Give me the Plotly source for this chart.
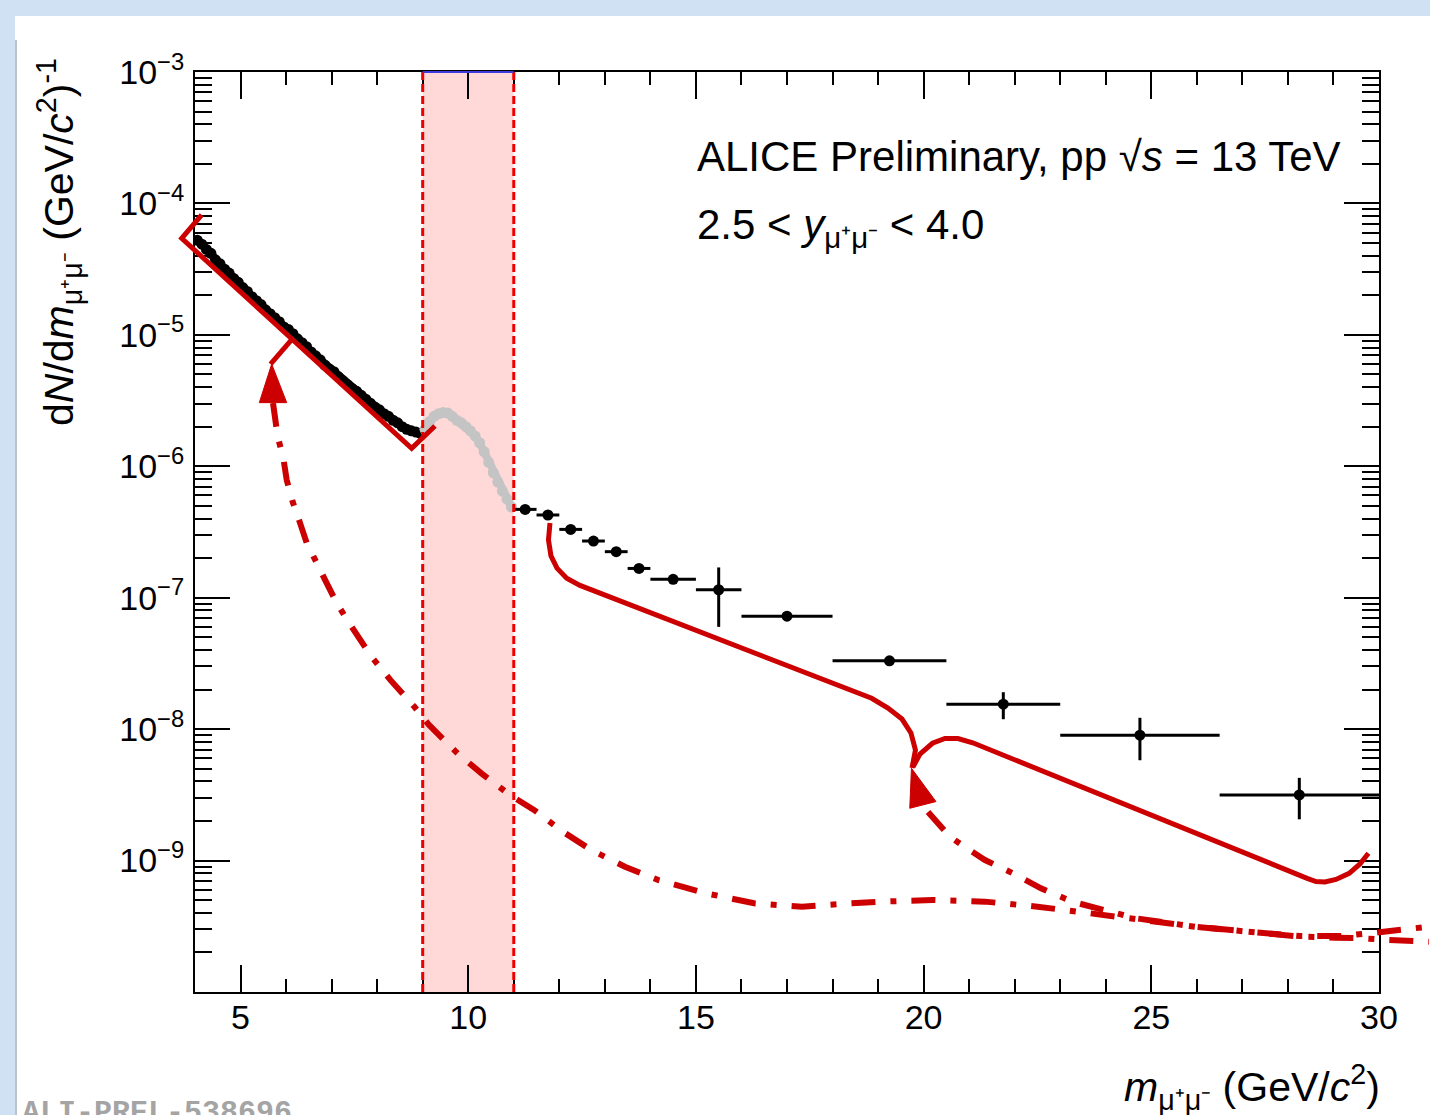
import math
import plotly.graph_objects as go

FONT = "Liberation Sans, Arial, Helvetica, sans-serif"
X_RANGE = [4, 30]
Y_RANGE_LOG = [-10, -3]

# ---------------- data ----------------
# fine-binned continuum below the Upsilon region (black)
fine_x = [4.05, 4.15, 4.25, 4.35, 4.45, 4.55, 4.65, 4.75, 4.85, 4.95,
          5.05, 5.15, 5.25, 5.35, 5.45, 5.55, 5.65, 5.75, 5.85, 5.95,
          6.05, 6.15, 6.25, 6.35, 6.45, 6.55, 6.65, 6.75, 6.85, 6.95,
          7.05, 7.15, 7.25, 7.35, 7.45, 7.55, 7.65, 7.75, 7.85, 7.95,
          8.05, 8.15, 8.25, 8.35, 8.45, 8.55, 8.65, 8.75, 8.85, 8.95]
fine_y = [5.25e-5, 4.90e-5, 4.47e-5, 4.17e-5, 3.72e-5, 3.47e-5, 3.16e-5, 2.95e-5, 2.69e-5, 2.51e-5,
          2.29e-5, 2.14e-5, 1.95e-5, 1.82e-5, 1.70e-5, 1.55e-5, 1.45e-5, 1.35e-5, 1.26e-5, 1.15e-5,
          1.10e-5, 1.02e-5, 9.33e-6, 8.71e-6, 8.13e-6, 7.41e-6, 6.92e-6, 6.46e-6, 5.89e-6, 5.50e-6,
          5.25e-6, 4.79e-6, 4.47e-6, 4.17e-6, 3.89e-6, 3.72e-6, 3.47e-6, 3.24e-6, 3.02e-6, 2.82e-6,
          2.69e-6, 2.51e-6, 2.40e-6, 2.24e-6, 2.14e-6, 2.00e-6, 1.91e-6, 1.86e-6, 1.82e-6, 1.78e-6]

# Upsilon region (grey)
ups_x = [9.05, 9.15, 9.25, 9.35, 9.45, 9.55, 9.65, 9.75, 9.85, 9.95,
         10.05, 10.15, 10.25, 10.35, 10.45, 10.55, 10.65, 10.75, 10.85, 10.95]
ups_y = [1.91e-6, 2.19e-6, 2.40e-6, 2.51e-6, 2.57e-6, 2.54e-6, 2.40e-6, 2.24e-6, 2.14e-6, 2.00e-6,
         1.86e-6, 1.70e-6, 1.51e-6, 1.29e-6, 1.07e-6, 8.91e-7, 7.59e-7, 6.46e-7, 5.62e-7, 4.90e-7]

# high-mass bins (black, with errors)
bin_x = [11.25, 11.75, 12.25, 12.75, 13.25, 13.75, 14.5, 15.5, 17.0, 19.25, 21.75, 24.75, 28.25]
bin_xerr = [0.25, 0.25, 0.25, 0.25, 0.25, 0.25, 0.5, 0.5, 1.0, 1.25, 1.25, 1.75, 1.75]
bin_y = [4.70e-7, 4.26e-7, 3.31e-7, 2.70e-7, 2.24e-7, 1.67e-7, 1.38e-7, 1.15e-7,
         7.24e-8, 3.31e-8, 1.55e-8, 9.0e-9, 3.16e-9]
bin_yerr = [1.2e-8, 1.2e-8, 1.0e-8, 1.2e-8, 1.0e-8, 1.0e-8, 8.0e-9, 5.5e-8,
            3.0e-9, 1.5e-9, 3.6e-9, 3.2e-9, 1.1e-9]

# excluded Upsilon window
band_x = [9.0, 11.0]

# y tick labels
y_tick_vals = [1e-10, 1e-9, 1e-8, 1e-7, 1e-6, 1e-5, 1e-4, 1e-3]
y_tick_text = ["", "10<sup>\u22129</sup>", "10<sup>\u22128</sup>", "10<sup>\u22127</sup>",
               "10<sup>\u22126</sup>", "10<sup>\u22125</sup>", "10<sup>\u22124</sup>",
               "10<sup>\u22123</sup>"]

# ---------------- hand-drawn red overlay (in data units) ----------------
bracket_x = [4.147, 3.708, 8.758, 9.270]
bracket_y = [8.17e-5, 5.43e-5, 1.371e-6, 2.026e-6]
tick_x = [6.123, 5.658]
tick_y = [9.19e-6, 6.00e-6]
arrow1_x = [5.684, 5.412, 6.014]
arrow1_y = [6.00e-6, 3.05e-6, 3.05e-6]
arrow2_x = [19.733, 19.696, 20.271]
arrow2_y = [5.04e-9, 2.50e-9, 2.81e-9]

dd1_x = [5.713, 5.816, 5.939, 6.014, 6.145, 6.306, 6.453, 6.672, 6.892, 7.112, 7.366,
         7.874, 8.293, 8.818, 9.134, 9.764, 10.289, 10.919, 11.444, 12.076, 12.707,
         13.442, 14.178, 15.228, 16.277, 17.329, 18.378, 19.042, 20.194, 21.347,
         22.502, 23.653, 24.808, 25.959, 27.114, 28.265, 29.033, 29.648, 30.190, 31.097]
dd1_y = [3.03e-6, 1.68e-6, 1.156e-6, 7.87e-7, 5.37e-7, 3.71e-7, 2.61e-7, 1.84e-7, 1.29e-7,
         9.12e-8, 6.57e-8, 3.56e-8, 2.36e-8, 1.48e-8, 1.08e-8, 6.55e-9, 4.61e-9, 3.15e-9,
         2.43e-9, 1.66e-9, 1.20e-9, 8.98e-10, 7.11e-10, 5.63e-10, 4.73e-10, 4.46e-10,
         4.73e-10, 4.87e-10, 5.01e-10, 4.87e-10, 4.46e-10, 3.97e-10, 3.53e-10, 3.14e-10,
         2.88e-10, 2.64e-10, 2.59e-10, 2.56e-10, 2.49e-10, 2.41e-10]

dd2_x = [20.096, 20.579, 20.886, 21.347, 21.962, 22.577, 23.271, 23.960, 24.654,
         25.959, 27.114, 28.265, 29.187, 29.802, 30.571, 31.098]
dd2_y = [2.34e-9, 1.52e-9, 1.28e-9, 1.01e-9, 8.00e-10, 6.15e-10, 4.86e-10, 4.21e-10,
         3.64e-10, 3.14e-10, 2.88e-10, 2.67e-10, 2.67e-10, 2.80e-10, 3.00e-10, 3.14e-10]

solid1_x = [11.795, 11.762, 11.817, 11.949, 12.162, 12.454, 18.859, 19.217, 19.525,
            19.722, 19.821, 19.745]
solid1_y = [3.70e-7, 2.75e-7, 2.08e-7, 1.68e-7, 1.405e-7, 1.24e-7, 1.717e-8, 1.449e-8,
            1.194e-8, 9.35e-9, 6.94e-9, 5.06e-9]
solid2_x = [19.766, 19.920, 20.194, 20.469, 20.754, 21.079, 28.422, 28.616, 28.813,
            29.055, 29.345, 29.582, 29.767]
solid2_y = [5.15e-9, 6.47e-9, 7.81e-9, 8.49e-9, 8.49e-9, 7.88e-9, 7.33e-10, 6.93e-10,
            6.87e-10, 7.18e-10, 8.00e-10, 9.42e-10, 1.136e-9]

# ---------------- helpers ----------------
W, H = 1430, 1115
ML, MR, MT, MB = 195, 51, 72, 123
PW, PH = W - ML - MR, H - MT - MB


def to_paper(x, y):
    return ((x - X_RANGE[0]) / (X_RANGE[1] - X_RANGE[0]),
            (math.log10(y) - Y_RANGE_LOG[0]) / (Y_RANGE_LOG[1] - Y_RANGE_LOG[0]))


def svg_path(xs, ys, close=False):
    pts = [to_paper(x, y) for x, y in zip(xs, ys)]
    d = "M" + " L".join(f"{px:.5f},{py:.5f}" for px, py in pts)
    return d + (" Z" if close else "")


def px_x(px):
    return (px - ML) / PW


def px_y(py):
    return (H - MB - py) / PH


RED = "#cc0000"

fig = go.Figure()

fig.add_trace(go.Scatter(x=fine_x, y=fine_y, mode="lines+markers",
                         line=dict(color="black", width=8),
                         marker=dict(color="black", size=11, line=dict(width=0)),
                         showlegend=False))
fig.add_trace(go.Scatter(x=ups_x, y=ups_y, mode="lines+markers",
                         line=dict(color="#c4c4c4", width=8),
                         marker=dict(color="#c4c4c4", size=11, line=dict(width=0)),
                         showlegend=False))
fig.add_trace(go.Scatter(x=bin_x, y=bin_y, mode="markers",
                         marker=dict(color="black", size=11, line=dict(width=0)),
                         error_x=dict(type="data", array=bin_xerr, color="black",
                                      thickness=3, width=0),
                         error_y=dict(type="data", array=bin_yerr, color="black",
                                      thickness=3, width=0),
                         showlegend=False))

shapes = []
# background of the slide
shapes.append(dict(type="rect", xref="paper", yref="paper", x0=px_x(0), x1=px_x(W),
                   y0=px_y(16), y1=px_y(0), fillcolor="#cfe1f2", line=dict(width=0),
                   layer="below"))
shapes.append(dict(type="rect", xref="paper", yref="paper", x0=px_x(0), x1=px_x(15),
                   y0=px_y(H), y1=px_y(0), fillcolor="#cfe1f2", line=dict(width=0),
                   layer="below"))
shapes.append(dict(type="rect", xref="paper", yref="paper", x0=px_x(15), x1=px_x(17),
                   y0=px_y(H), y1=px_y(40), fillcolor="#b9c3cc", line=dict(width=0),
                   layer="below"))
# excluded band
shapes.append(dict(type="rect", xref="x", yref="paper", x0=band_x[0], x1=band_x[1],
                   y0=0, y1=1, fillcolor="#ffd8d8", line=dict(width=0), layer="below"))
for bx in band_x:
    shapes.append(dict(type="line", xref="x", yref="paper", x0=bx, x1=bx, y0=0, y1=1,
                       line=dict(color="#ee0000", width=3, dash="8px,4px"), layer="above"))
shapes.append(dict(type="line", xref="x", yref="paper", x0=band_x[0], x1=band_x[1],
                   y0=1, y1=1, line=dict(color="#3a3adf", width=2), layer="above"))

# red overlay
for xs, ys in [(bracket_x, bracket_y), (tick_x, tick_y), (solid1_x, solid1_y),
               (solid2_x, solid2_y)]:
    shapes.append(dict(type="path", xref="paper", yref="paper", path=svg_path(xs, ys),
                       line=dict(color=RED, width=5), layer="above"))
for xs, ys in [(arrow1_x, arrow1_y), (arrow2_x, arrow2_y)]:
    shapes.append(dict(type="path", xref="paper", yref="paper", path=svg_path(xs, ys, True),
                       fillcolor=RED, line=dict(color=RED, width=1), layer="above"))
for xs, ys in [(dd1_x, dd1_y), (dd2_x, dd2_y)]:
    shapes.append(dict(type="path", xref="paper", yref="paper", path=svg_path(xs, ys),
                       line=dict(color=RED, width=6, dash="24px,15px,6px,15px"),
                       layer="above"))

annotations = [
    dict(text="ALICE Preliminary, pp \u221a<i>s</i> = 13 TeV", xref="paper", yref="paper",
         x=px_x(695), y=px_y(157), xanchor="left", yanchor="middle", showarrow=False,
         font=dict(family=FONT, size=42, color="black")),
    dict(text="2.5 < <i>y</i><sub>\u03bc\u207a\u03bc\u207b</sub> < 4.0", xref="paper",
         yref="paper", x=px_x(695), y=px_y(199), xanchor="left", yanchor="top",
         showarrow=False, font=dict(family=FONT, size=42, color="black")),
    dict(text="<i>m</i><sub>\u03bc\u207a\u03bc\u207b</sub> (GeV/<i>c</i><sup>2</sup>)",
         xref="paper", yref="paper", x=px_x(1382), y=px_y(1056), xanchor="right",
         yanchor="top", showarrow=False, font=dict(family=FONT, size=41, color="black")),
    dict(text="d<i>N</i>/d<i>m</i><sub>\u03bc\u207a\u03bc\u207b</sub> (GeV/<i>c</i><sup>2</sup>)<sup>-1</sup>",
         xref="paper", yref="paper", x=px_x(28), y=px_y(56), xanchor="left",
         yanchor="top", textangle=-90, showarrow=False,
         font=dict(family=FONT, size=41, color="black")),
    dict(text="<b>ALI-PREL-538696</b>", xref="paper", yref="paper", x=px_x(20),
         y=px_y(1094), xanchor="left", yanchor="top", showarrow=False,
         font=dict(family="Liberation Mono, Courier New, monospace", size=30,
                   color="#a4a4a4")),
]

minor_y = [m * 10.0 ** e for e in range(-10, -3) for m in range(2, 10)]

fig.update_layout(
    width=W, height=H, autosize=False,
    margin=dict(l=ML, r=MR, t=MT, b=MB, pad=0),
    paper_bgcolor="white", plot_bgcolor="white",
    shapes=shapes, annotations=annotations,
    font=dict(family=FONT, color="black"),
    xaxis=dict(range=X_RANGE, showline=True, linewidth=2, linecolor="black",
               mirror="ticks", ticks="inside", ticklen=27, tickwidth=2,
               tickcolor="black", tick0=0, dtick=5, showgrid=False, zeroline=False,
               ticklabelstandoff=-6,
               tickfont=dict(size=34, family=FONT, color="black"),
               minor=dict(ticks="inside", ticklen=13, tickwidth=2, tickcolor="black",
                          tick0=0, dtick=1, showgrid=False)),
    yaxis=dict(type="log", range=Y_RANGE_LOG, showline=True, linewidth=2,
               linecolor="black", mirror="ticks", ticks="inside", ticklen=35,
               tickwidth=2, tickcolor="black", tickmode="array",
               tickvals=y_tick_vals, ticktext=y_tick_text, showgrid=False,
               zeroline=False, ticklabelstandoff=2,
               tickfont=dict(size=34, family=FONT, color="black"),
               minor=dict(ticks="inside", ticklen=17, tickwidth=2, tickcolor="black",
                          tickmode="array", tickvals=minor_y, showgrid=False)),
)

fig.write_html("out.html", config={"displayModeBar": False},
               post_script="document.body.style.margin='0px';"
                           "document.body.style.overflow='hidden';")
